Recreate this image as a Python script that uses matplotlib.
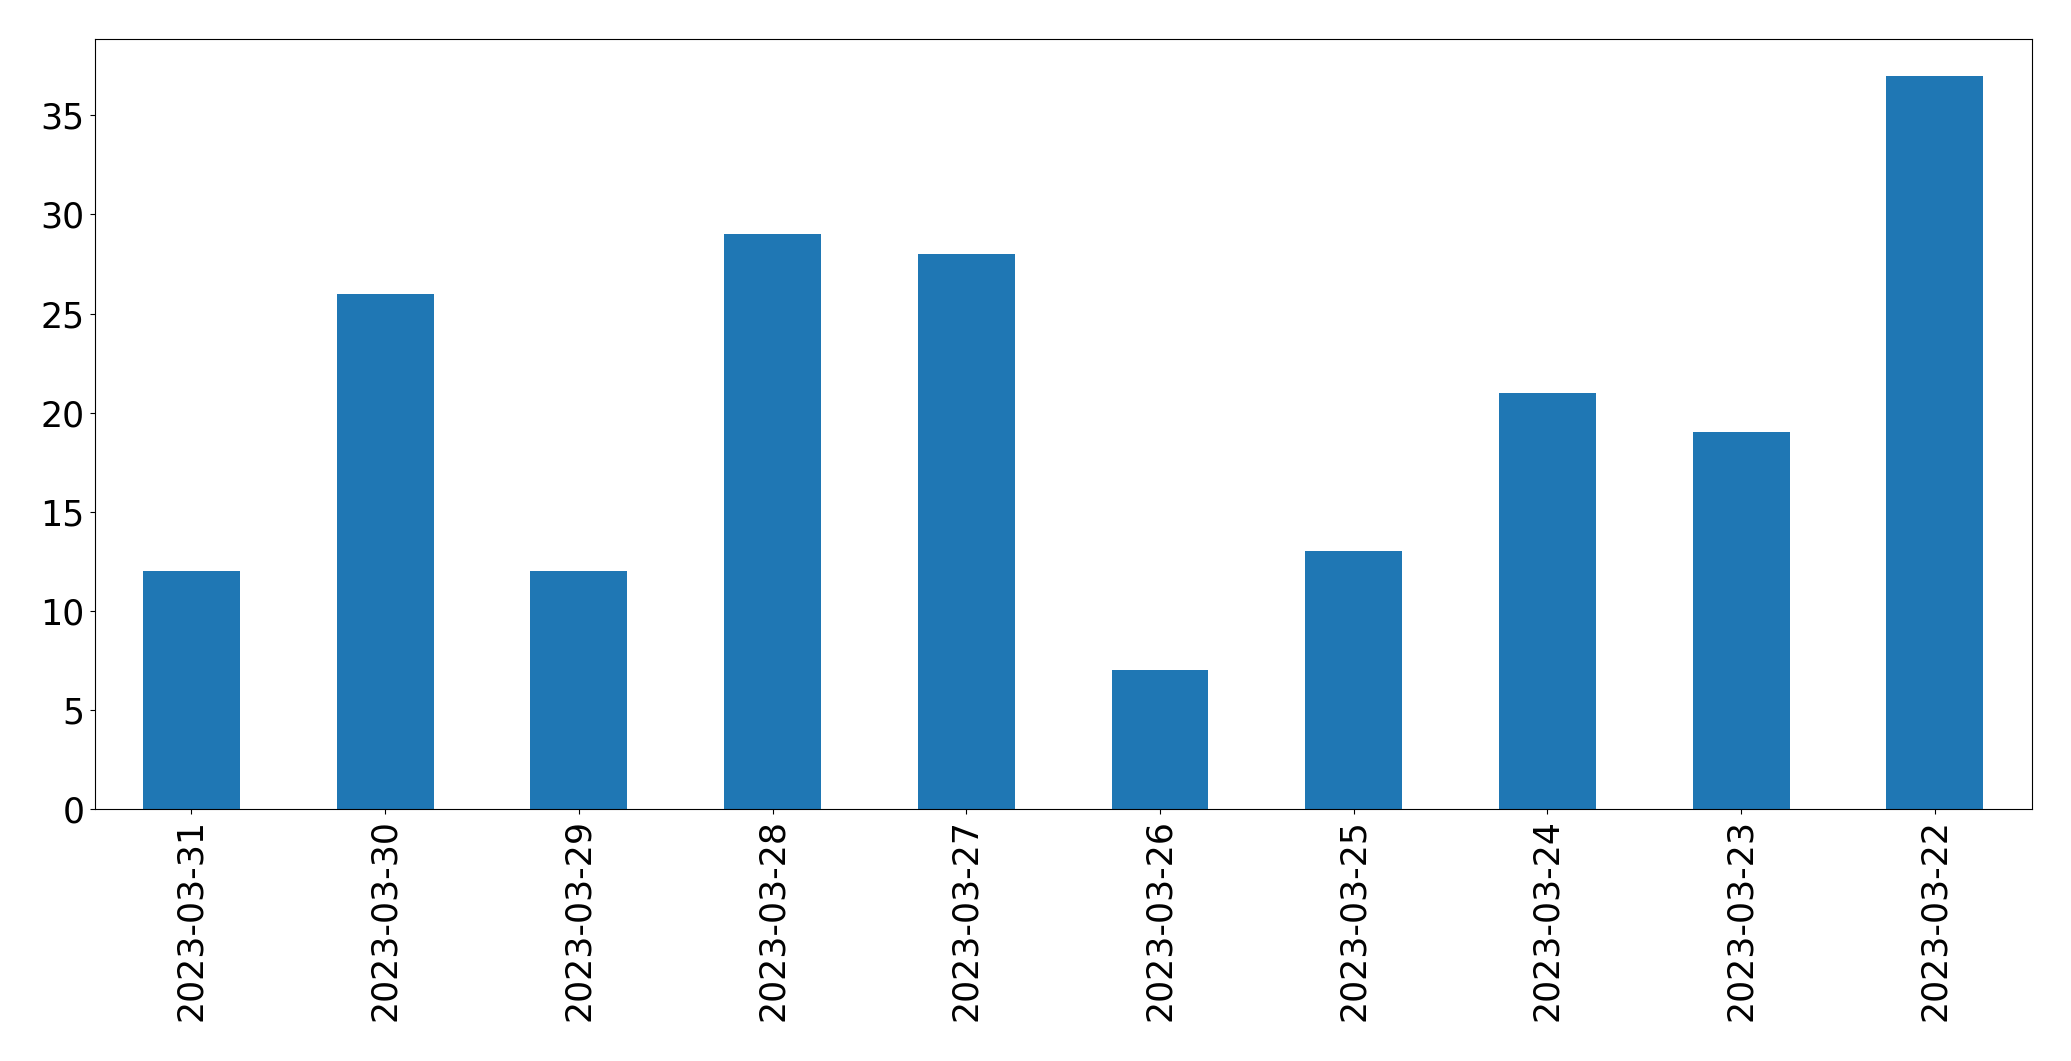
import matplotlib
matplotlib.use('Agg')
from matplotlib import pyplot as plt

dates = ['2023-03-31', '2023-03-30', '2023-03-29', '2023-03-28', '2023-03-27',
         '2023-03-26', '2023-03-25', '2023-03-24', '2023-03-23', '2023-03-22']
counts = [12, 26, 12, 29, 28, 7, 13, 21, 19, 37]

fig = plt.figure(figsize=(20.71, 10.61), dpi=100)
ax = fig.add_axes([94.5/2071, 1 - 809/1061, (2031.7 - 94.5)/2071, (809 - 39)/1061])

pos = range(len(dates))
ax.bar(pos, counts, width=0.5, color='#1f77b4')
ax.set_xticks(list(pos))
ax.set_xticklabels(dates, rotation=90)
ax.set_xlim(-0.5, len(dates) - 0.5)
ax.tick_params(labelsize=25)

fig.savefig('out.png', dpi=100)
